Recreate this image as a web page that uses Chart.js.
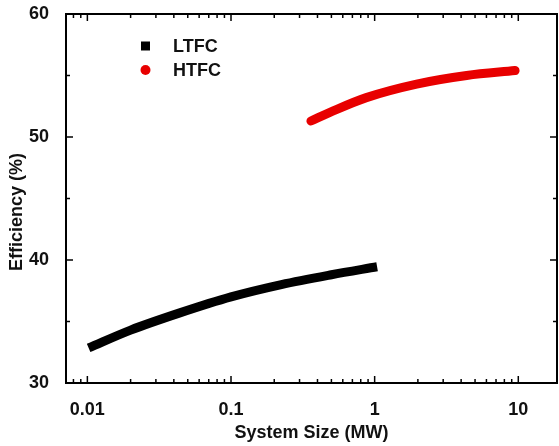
<!DOCTYPE html>
<html lang="en">
<head>
    <meta charset="UTF-8">
    <title>Efficiency vs System Size</title>
    <script src="https://cdn.jsdelivr.net/npm/chart.js"></script>
    <style>
        html, body { margin: 0; padding: 0; background: #fff; }
        canvas { display: block; }
    </style>
</head>
<body>
    <canvas id="effChart" width="559" height="446"></canvas>
    <script>
        // values
        const ltfcSize = [0.0102, 0.02, 0.044, 0.1, 0.224, 0.5, 1.04];
        const ltfcEff = [32.85, 34.3, 35.7, 37.0, 38.0, 38.8, 39.45];

        const htfcSize = [0.36, 0.51, 0.875, 1.96, 4.37, 9.5];
        const htfcEff = [51.3, 52.1, 53.2, 54.3, 55.0, 55.4];

        const xTickValues = [0.01, 0.1, 1, 10];
        const yTickValues = [30, 40, 50, 60];
        const yMinorValues = [35, 45, 55];

        const FONT = "'Liberation Sans', Arial, sans-serif";

        function toPoints(xs, ys) {
            return xs.map((x, i) => ({ x: x, y: ys[i] }));
        }

        // minor ticks 2..9 in each decade that lands inside the axis
        function logMinors(min, max) {
            let out = [];
            for (let d = -3; d <= 2; d++) {
                for (let m = 2; m <= 9; m++) {
                    let v = m * Math.pow(10, d);
                    if (v > min && v < max) out.push(v);
                }
            }
            return out;
        }

        // frame box, inward ticks on all four sides, y title and the legend
        const framePlugin = {
            id: 'frame',
            afterDraw(chart) {
                const ctx = chart.ctx;
                const a = chart.chartArea;
                const xs = chart.scales.x;
                const ys = chart.scales.y;
                ctx.save();
                ctx.strokeStyle = '#000';
                ctx.lineWidth = 2;
                ctx.strokeRect(a.left, a.top, a.right - a.left, a.bottom - a.top);

                ctx.lineWidth = 1.5;
                const tick = (x1, y1, x2, y2) => {
                    ctx.beginPath();
                    ctx.moveTo(x1, y1);
                    ctx.lineTo(x2, y2);
                    ctx.stroke();
                };
                const major = 7, minor = 4;
                xTickValues.forEach(v => {
                    let px = xs.getPixelForValue(v);
                    tick(px, a.bottom, px, a.bottom - major);
                    tick(px, a.top, px, a.top + major);
                });
                logMinors(xs.min, xs.max).forEach(v => {
                    let px = xs.getPixelForValue(v);
                    tick(px, a.bottom, px, a.bottom - minor);
                    tick(px, a.top, px, a.top + minor);
                });
                yTickValues.forEach(v => {
                    let py = ys.getPixelForValue(v);
                    tick(a.left, py, a.left + major, py);
                    tick(a.right, py, a.right - major, py);
                });
                yMinorValues.forEach(v => {
                    let py = ys.getPixelForValue(v);
                    tick(a.left, py, a.left + minor, py);
                    tick(a.right, py, a.right - minor, py);
                });

                ctx.font = 'bold 18px ' + FONT;
                ctx.fillStyle = '#111';

                // y axis title, sitting a little below the plot middle as in the source
                ctx.save();
                ctx.translate(17, 212);
                ctx.rotate(-Math.PI / 2);
                ctx.textAlign = 'center';
                ctx.textBaseline = 'middle';
                ctx.fillText('Efficiency (%)', 0, 0);
                ctx.restore();

                // legend
                ctx.textBaseline = 'middle';
                ctx.textAlign = 'left';
                chart.data.datasets.forEach((ds, i) => {
                    let cy = 46 + i * 24;
                    ctx.fillStyle = ds.borderColor;
                    if (ds.legendShape === 'rect') {
                        ctx.fillRect(141, cy - 4.5, 9, 9);
                    } else {
                        ctx.beginPath();
                        ctx.arc(145.5, cy, 5, 0, Math.PI * 2);
                        ctx.fill();
                    }
                    ctx.fillStyle = '#111';
                    ctx.fillText(ds.label, 173, cy + 1);
                });
                ctx.restore();
            }
        };

        new Chart(document.getElementById('effChart'), {
            type: 'line',
            data: {
                datasets: [
                    {
                        label: 'LTFC',
                        data: toPoints(ltfcSize, ltfcEff),
                        borderColor: '#000000',
                        borderWidth: 9,
                        borderCapStyle: 'butt',
                        cubicInterpolationMode: 'monotone',
                        pointRadius: 0,
                        legendShape: 'rect'
                    },
                    {
                        label: 'HTFC',
                        data: toPoints(htfcSize, htfcEff),
                        borderColor: '#e80000',
                        borderWidth: 9,
                        borderCapStyle: 'round',
                        cubicInterpolationMode: 'monotone',
                        pointRadius: 0,
                        legendShape: 'circle'
                    }
                ]
            },
            options: {
                responsive: false,
                animation: false,
                layout: { padding: { top: 14, right: 2, left: 0, bottom: 0 } },
                plugins: {
                    legend: { display: false },
                    tooltip: { enabled: false }
                },
                scales: {
                    x: {
                        type: 'logarithmic',
                        min: 0.0071,
                        max: 18.6,
                        grid: { display: false },
                        border: { display: false },
                        afterBuildTicks: s => { s.ticks = xTickValues.map(v => ({ value: v })); },
                        afterFit: s => { s.height = 63; s.paddingLeft = 0; s.paddingRight = 0; },
                        ticks: {
                            color: '#111',
                            padding: 8,
                            maxRotation: 0,
                            font: { family: FONT, size: 18, weight: 'bold' },
                            callback: v => String(v)
                        },
                        title: {
                            display: true,
                            text: 'System Size (MW)',
                            color: '#111',
                            padding: { top: 0, bottom: 2 },
                            font: { family: FONT, size: 18, weight: 'bold' }
                        }
                    },
                    y: {
                        min: 30,
                        max: 60,
                        grid: { display: false },
                        border: { display: false },
                        afterBuildTicks: s => { s.ticks = yTickValues.map(v => ({ value: v })); },
                        afterFit: s => { s.width = 66; s.paddingTop = 0; s.paddingBottom = 0; },
                        ticks: {
                            color: '#111',
                            padding: 9,
                            font: { family: FONT, size: 18, weight: 'bold' }
                        }
                    }
                }
            },
            plugins: [framePlugin]
        });
    </script>
</body>
</html>
